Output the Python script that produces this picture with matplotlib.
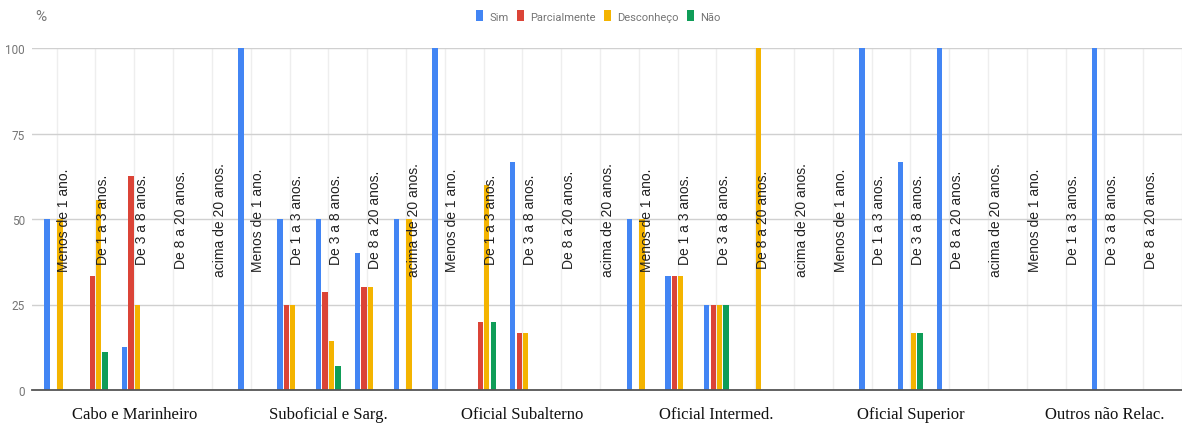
import matplotlib
matplotlib.use("Agg")
import matplotlib.pyplot as plt
import numpy as np
from matplotlib.patches import Patch

# ranks (groups) and time-in-service (subgroups)
groups = ["Cabo e Marinheiro", "Suboficial e Sarg.", "Oficial Subalterno",
          "Oficial Intermed.", "Oficial Superior", "Outros não Relac."]
periods = ["Menos de 1 ano.", "De 1 a 3 anos.", "De 3 a 8 anos.",
           "De 8 a 20 anos.", "acima de 20 anos."]
series = ["Sim", "Parcialmente", "Desconheço", "Não"]
colors = ["#4285f4", "#db4437", "#f4b400", "#0f9d58"]

# values in %, one row per group, one entry per period
sim = [
    [50, 0, 12.5, 0, 0],
    [100, 50, 50, 40, 50],
    [100, 0, 66.7, 0, 0],
    [50, 33.3, 25, 0, 0],
    [0, 100, 66.7, 100, 0],
    [0, 0, 100, 0, 0],
]
parcialmente = [
    [0, 33.3, 62.5, 0, 0],
    [0, 25, 28.6, 30, 0],
    [0, 20, 16.7, 0, 0],
    [0, 33.3, 25, 0, 0],
    [0, 0, 0, 0, 0],
    [0, 0, 0, 0, 0],
]
desconheco = [
    [50, 55.6, 25, 0, 0],
    [0, 25, 14.3, 30, 50],
    [0, 60, 16.7, 0, 0],
    [50, 33.3, 25, 100, 0],
    [0, 0, 16.7, 0, 0],
    [0, 0, 0, 0, 0],
]
nao = [
    [0, 11.1, 0, 0, 0],
    [0, 0, 7.1, 0, 0],
    [0, 20, 0, 0, 0],
    [0, 0, 25, 0, 0],
    [0, 0, 16.7, 0, 0],
    [0, 0, 0, 0, 0],
]

ui_font = "Roboto"

fig = plt.figure(figsize=(11.82, 4.27), dpi=100)
W, H = 1182, 427
# axes runs to the right edge (the reference is cropped there)
ax = fig.add_axes([32 / W, (H - 391) / H, (W - 32) / W, (391 - 49) / H])

n_slots = len(groups) * len(periods)
x = np.arange(n_slots)
pitch = 0.165
width = 0.135

for k, vals in enumerate([sim, parcialmente, desconheco, nao]):
    v = np.array(vals).ravel()
    ax.bar(x + (k - 1.5) * pitch, v, width=width, color=colors[k],
           linewidth=0, zorder=3)

xmax = (W - 57) / 39.3
ax.set_xlim(-0.636, xmax)
ax.set_ylim(0, 100)

# period labels written inside the plot, rotated
for i in range(n_slots):
    if x[i] + 0.4 > xmax:
        continue
    ax.text(x[i] + 0.2, 50, periods[i % len(periods)], rotation=90,
            ha="center", va="center", fontsize=10, color="#222222",
            family="Liberation Sans", zorder=4)

# group labels below the axis
for g, name in enumerate(groups):
    ax.text(g * len(periods) + 2, -7.0, name, ha="center", va="center",
            fontsize=12, family="Liberation Serif", color="#111111",
            clip_on=False)

ax.set_xticks(x)
ax.set_xticklabels([])
ax.set_yticks([0, 25, 50, 75, 100])
ax.tick_params(axis="both", length=0)
ax.tick_params(axis="y", pad=5, labelsize=8.5, labelcolor="#757575")
for lab in ax.get_yticklabels():
    lab.set_family(ui_font)

ax.grid(axis="y", color="#d0d0d0", linewidth=1, zorder=0)
ax.grid(axis="x", color="#eeeeee", linewidth=1, zorder=0)
for s in ["top", "right", "left"]:
    ax.spines[s].set_visible(False)
ax.spines["bottom"].set_color("#555555")
ax.spines["bottom"].set_linewidth(1.3)
ax.spines["bottom"].set_zorder(5)

fig.text(35 / W, 1 - 17 / H, "%", fontsize=11, color="#757575",
         va="center", ha="left", family=ui_font)

handles = [Patch(facecolor=c, edgecolor="none") for c in colors]
fig.legend(handles, series, loc="center", bbox_to_anchor=(598 / W, 1 - 17 / H),
           ncol=4, frameon=False, prop={"family": ui_font, "size": 8},
           labelcolor="#757575", handlelength=0.63, handleheight=1.08,
           handletextpad=0.55, columnspacing=0.75, borderaxespad=0)

fig.savefig("out.png", dpi=100)
